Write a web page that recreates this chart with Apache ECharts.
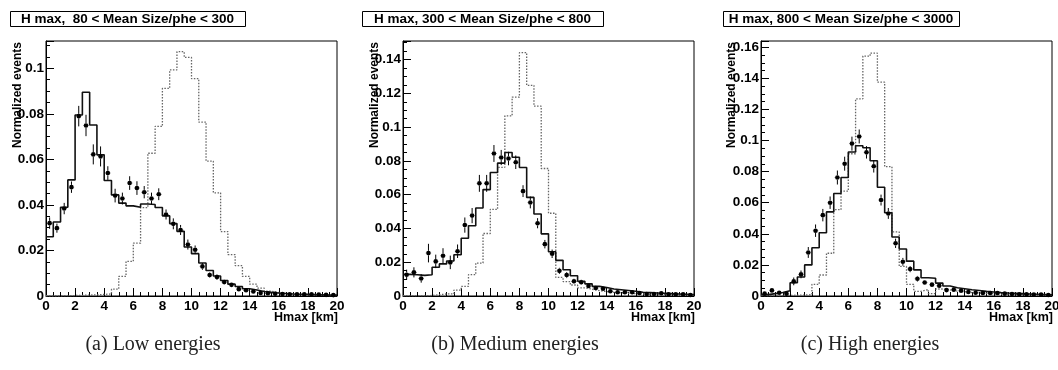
<!DOCTYPE html>
<html><head><meta charset="utf-8">
<script src="https://cdn.jsdelivr.net/npm/echarts@6/dist/echarts.min.js"></script>
<style>html,body{margin:0;padding:0;background:#fff}#c{width:1058px;height:370px}</style>
</head><body><div id="c"></div>
<script>
// ---- data ----
const binEdges = [0,0.5,1,1.5,2,2.5,3,3.5,4,4.5,5,5.5,6,6.5,7,7.5,8,8.5,9,9.5,10,10.5,11,11.5,12,12.5,13,13.5,14,14.5,15,15.5,16,16.5,17,17.5,18,18.5,19,19.5,20];
const binCenters = [0.25,0.75,1.25,1.75,2.25,2.75,3.25,3.75,4.25,4.75,5.25,5.75,6.25,6.75,7.25,7.75,8.25,8.75,9.25,9.75,10.25,10.75,11.25,11.75,12.25,12.75,13.25,13.75,14.25,14.75,15.25,15.75,16.25,16.75,17.25,17.75,18.25,18.75,19.25,19.75];
const xTickLabels = ['0','2','4','6','8','10','12','14','16','18','20'];
const panelTitles = ['H max,  80 < Mean Size/phe < 300','H max, 300 < Mean Size/phe < 800','H max, 800 < Mean Size/phe < 3000'];
const captions = ['(a) Low energies','(b) Medium energies','(c) High energies'];
const yAxisTitle = 'Normalized events';
const xAxisTitle = 'Hmax [km]';
const yMax = [0.112, 0.151, 0.164];

const lowSolid = [0.026,0.0325,0.039,0.051,0.0795,0.0895,0.0751,0.062,0.0507,0.0444,0.0408,0.0396,0.039,0.0404,0.0402,0.0389,0.0352,0.0318,0.0284,0.0215,0.0186,0.0145,0.0112,0.0088,0.0068,0.0052,0.0042,0.0032,0.0026,0.002,0.0016,0.0013,0.0011,0.0009,0.0008,0.0007,0.0006,0.0005,0.0004,0.0004];
const lowDotted = [0.0001,0.0001,0.0002,0.0002,0.0003,0.0004,0.0005,0.0007,0.0009,0.003,0.0086,0.0152,0.0232,0.0388,0.0627,0.0745,0.0912,0.0993,0.1073,0.1048,0.0955,0.0764,0.0592,0.0453,0.0283,0.0182,0.0133,0.0086,0.0052,0.0035,0.0021,0.0015,0.001,0.0008,0.0006,0.0005,0.0004,0.0003,0.0002,0.0002];
const lowData = [0.032,0.0298,0.0384,0.0478,0.079,0.0749,0.0622,0.0613,0.054,0.0441,0.0428,0.0496,0.0474,0.0456,0.0428,0.0447,0.0358,0.0317,0.029,0.0226,0.0203,0.013,0.0092,0.0083,0.0061,0.0049,0.003,0.0025,0.002,0.0013,0.0012,0.001,0.0009,0.0008,0.0008,0.0007,0.0007,0.0006,0.0005,0.0004];
const lowErr = [0.0025,0.002,0.0025,0.0025,0.0045,0.0047,0.0044,0.0044,0.003,0.003,0.0026,0.003,0.003,0.0027,0.0026,0.0026,0.0022,0.0024,0.0022,0.0022,0.0019,0.0015,0.0012,0.0012,0.001,0.001,0.0008,0.0008,0.0007,0.0006,0.0006,0.0005,0.0005,0.0005,0.0005,0.0004,0.0004,0.0004,0.0004,0.0004];

const medSolid = [0.0128,0.0126,0.0122,0.0126,0.017,0.019,0.0207,0.0244,0.0342,0.0416,0.0521,0.063,0.0731,0.0787,0.085,0.0822,0.0761,0.0584,0.0486,0.0368,0.0262,0.0211,0.0155,0.012,0.0087,0.0072,0.0057,0.005,0.0041,0.0037,0.0033,0.0028,0.0022,0.002,0.0018,0.0016,0.0014,0.0012,0.001,0.0008];
const medDotted = [0.0002,0.0002,0.0002,0.0003,0.0008,0.0012,0.0012,0.0035,0.0057,0.0126,0.0195,0.037,0.0513,0.0762,0.1067,0.1178,0.1441,0.1247,0.1124,0.0755,0.049,0.011,0.0085,0.0065,0.0048,0.004,0.0032,0.0026,0.0022,0.0019,0.0016,0.0014,0.0012,0.001,0.0009,0.0008,0.0007,0.0006,0.0005,0.0004];
const medData = [0.0126,0.014,0.0104,0.0254,0.0205,0.0238,0.0199,0.0265,0.042,0.0476,0.0667,0.0667,0.0844,0.082,0.0814,0.0792,0.0621,0.0554,0.0431,0.0307,0.025,0.0149,0.0124,0.0087,0.0081,0.0059,0.0047,0.0043,0.0028,0.0022,0.0022,0.0022,0.0018,0.0012,0.0012,0.0016,0.001,0.001,0.001,0.0006];
const medErr = [0.003,0.003,0.0025,0.0055,0.004,0.0045,0.004,0.004,0.0045,0.0045,0.005,0.005,0.005,0.0045,0.004,0.004,0.0035,0.0035,0.003,0.0025,0.0025,0.0018,0.0018,0.0015,0.0015,0.0012,0.0012,0.0012,0.001,0.0009,0.0009,0.0009,0.0008,0.0007,0.0007,0.0008,0.0006,0.0006,0.0006,0.0005];

const highSolid = [0.0009,0.0015,0.0023,0.0034,0.0085,0.0122,0.02,0.031,0.0407,0.0541,0.0659,0.0762,0.0926,0.0966,0.0953,0.087,0.0699,0.0535,0.0379,0.0302,0.0224,0.0168,0.0117,0.0114,0.0083,0.0064,0.0053,0.0047,0.004,0.0035,0.003,0.0026,0.0022,0.0019,0.0017,0.0015,0.0013,0.0011,0.0009,0.0007];
const highDotted = [0.0003,0.0003,0.0003,0.0004,0.0005,0.0006,0.0009,0.0075,0.0135,0.0275,0.0555,0.0675,0.0915,0.1268,0.1543,0.1562,0.1375,0.0832,0.0412,0.019,0.0075,0.003,0.0042,0.0015,0.0045,0.004,0.0032,0.0028,0.0022,0.002,0.0017,0.0014,0.0012,0.001,0.0009,0.0008,0.0006,0.0005,0.0004,0.0003];
const highData = [0.0015,0.0036,0.0021,0.0015,0.0094,0.0139,0.028,0.042,0.052,0.06,0.0762,0.0851,0.098,0.1026,0.0924,0.0834,0.0617,0.0531,0.0339,0.022,0.0173,0.0111,0.0087,0.0073,0.0066,0.0038,0.0041,0.0034,0.0026,0.0021,0.0019,0.0019,0.0019,0.0015,0.0013,0.0011,0.0011,0.0009,0.0009,0.0006];
const highErr = [0.001,0.0015,0.001,0.001,0.0025,0.0025,0.0035,0.004,0.004,0.004,0.0045,0.0045,0.0045,0.0045,0.004,0.004,0.0035,0.0035,0.003,0.0025,0.002,0.0018,0.0015,0.0015,0.0013,0.001,0.001,0.001,0.0009,0.0008,0.0008,0.0008,0.0008,0.0007,0.0007,0.0006,0.0006,0.0005,0.0005,0.0005];

// ---- layout ----
const panels = [
  {solid: lowSolid, dotted: lowDotted, data: lowData, err: lowErr},
  {solid: medSolid, dotted: medDotted, data: medData, err: medErr},
  {solid: highSolid, dotted: highDotted, data: highData, err: highErr}
];
const gridLefts = [46, 403, 761];
const gridTop = 41, gridW = 291, gridH = 255;
const titleBoxes = [[10, 245], [362, 603], [723, 959]];
const yLabelX = [17.5, 375, 732];
const captionX = [153, 515, 870];
const FONT = 'Liberation Sans';

const chart = echarts.init(document.getElementById('c'), null, {renderer: 'canvas'});

const grid = [], xAxis = [], yAxis = [], series = [], graphic = [];
panels.forEach((p, k) => {
  grid.push({left: gridLefts[k], top: gridTop, width: gridW, height: gridH, show: true,
    borderColor: '#000', borderWidth: 1, backgroundColor: 'transparent', containLabel: false, outerBoundsMode: 'none'});
  xAxis.push({gridIndex: k, type: 'value', min: 0, max: 20, interval: 2,
    axisLine: {show: true, onZero: false, lineStyle: {color: '#000', width: 1}},
    axisTick: {show: true, inside: true, length: 8, lineStyle: {color: '#000', width: 1}},
    minorTick: {show: true, splitNumber: 4, length: 4, lineStyle: {color: '#000', width: 1}},
    splitLine: {show: false}, minorSplitLine: {show: false},
    axisLabel: {color: '#000', fontFamily: FONT, fontWeight: 'bold', fontSize: 13.5, margin: 3,
      formatter: v => xTickLabels[Math.round(v / 2)] ?? ''}
  });
  yAxis.push({gridIndex: k, type: 'value', min: 0, max: yMax[k], interval: 0.02,
    axisLine: {show: true, onZero: false, lineStyle: {color: '#000', width: 1}},
    axisTick: {show: true, inside: true, length: 8, lineStyle: {color: '#000', width: 1}},
    minorTick: {show: true, splitNumber: 4, length: 4, lineStyle: {color: '#000', width: 1}},
    splitLine: {show: false}, minorSplitLine: {show: false},
    axisLabel: {color: '#000', fontFamily: FONT, fontWeight: 'bold', fontSize: 13.5, margin: 2,
      showMaxLabel: false, formatter: v => String(+v.toFixed(3))}
  });
  const hist = arr => binEdges.map((x, i) => [x, arr[Math.min(i, arr.length - 1)]]);
  series.push({type: 'line', xAxisIndex: k, yAxisIndex: k, step: 'end', data: hist(p.dotted),
    showSymbol: false, silent: true, animation: false,
    lineStyle: {color: '#666', width: 1.3, type: [1.5, 1.5]}, z: 2});
  series.push({type: 'line', xAxisIndex: k, yAxisIndex: k, step: 'end', data: hist(p.solid),
    showSymbol: false, silent: true, animation: false,
    lineStyle: {color: '#111', width: 1.6}, z: 3});
  series.push({type: 'custom', xAxisIndex: k, yAxisIndex: k, animation: false, silent: true, z: 4,
    data: binCenters.map((x, i) => [x, p.data[i], p.err[i]]),
    renderItem: (params, api) => {
      const x = api.value(0), y = api.value(1), e = api.value(2);
      const c = api.coord([x, y]);
      const t = api.coord([x, y + e]);
      const b = api.coord([x, Math.max(0, y - e)]);
      const l = api.coord([x - 0.25, y]);
      const r = api.coord([x + 0.25, y]);
      const rr = 2.3;
      const st = {stroke: '#000', lineWidth: 1};
      const ch = [];
      if (t[1] < c[1] - rr) ch.push({type: 'line', shape: {x1: c[0], y1: t[1], x2: c[0], y2: c[1] - rr}, style: st});
      if (b[1] > c[1] + rr) ch.push({type: 'line', shape: {x1: c[0], y1: c[1] + rr, x2: c[0], y2: b[1]}, style: st});
      ch.push({type: 'line', shape: {x1: l[0] + 1, y1: c[1], x2: c[0] - rr, y2: c[1]}, style: {stroke: '#444', lineWidth: 1}});
      ch.push({type: 'line', shape: {x1: c[0] + rr, y1: c[1], x2: r[0] - 1, y2: c[1]}, style: {stroke: '#444', lineWidth: 1}});
      ch.push({type: 'circle', shape: {cx: c[0], cy: c[1], r: rr}, style: {fill: '#000'}});
      return {type: 'group', children: ch};
    }
  });
  // title box
  const tb = titleBoxes[k];
  graphic.push({type: 'rect', shape: {x: tb[0] + 0.5, y: 11.5, width: tb[1] - tb[0], height: 15},
    style: {fill: '#fff', stroke: '#000', lineWidth: 1}});
  graphic.push({type: 'text', x: (tb[0] + tb[1]) / 2, y: 19.5,
    style: {text: panelTitles[k], fill: '#000', font: 'bold 13.5px "' + FONT + '"', textAlign: 'center', textVerticalAlign: 'middle'}});
  // y title
  graphic.push({type: 'text', x: yLabelX[k], y: 42, rotation: Math.PI / 2,
    style: {text: yAxisTitle, fill: '#000', font: 'bold 12px "' + FONT + '"', textAlign: 'right', textVerticalAlign: 'middle'}});
  // x title
  graphic.push({type: 'text', x: gridLefts[k] + gridW + 1, y: 318,
    style: {text: xAxisTitle, fill: '#000', font: 'bold 12.5px "' + FONT + '"', textAlign: 'right', textVerticalAlign: 'middle'}});
  // caption
  graphic.push({type: 'text', x: captionX[k], y: 345,
    style: {text: captions[k], fill: '#222', font: '20px "Liberation Serif"', textAlign: 'center', textVerticalAlign: 'middle'}});
});

chart.setOption({animation: false, backgroundColor: '#fff', grid, xAxis, yAxis, series, graphic});
</script></body></html>
